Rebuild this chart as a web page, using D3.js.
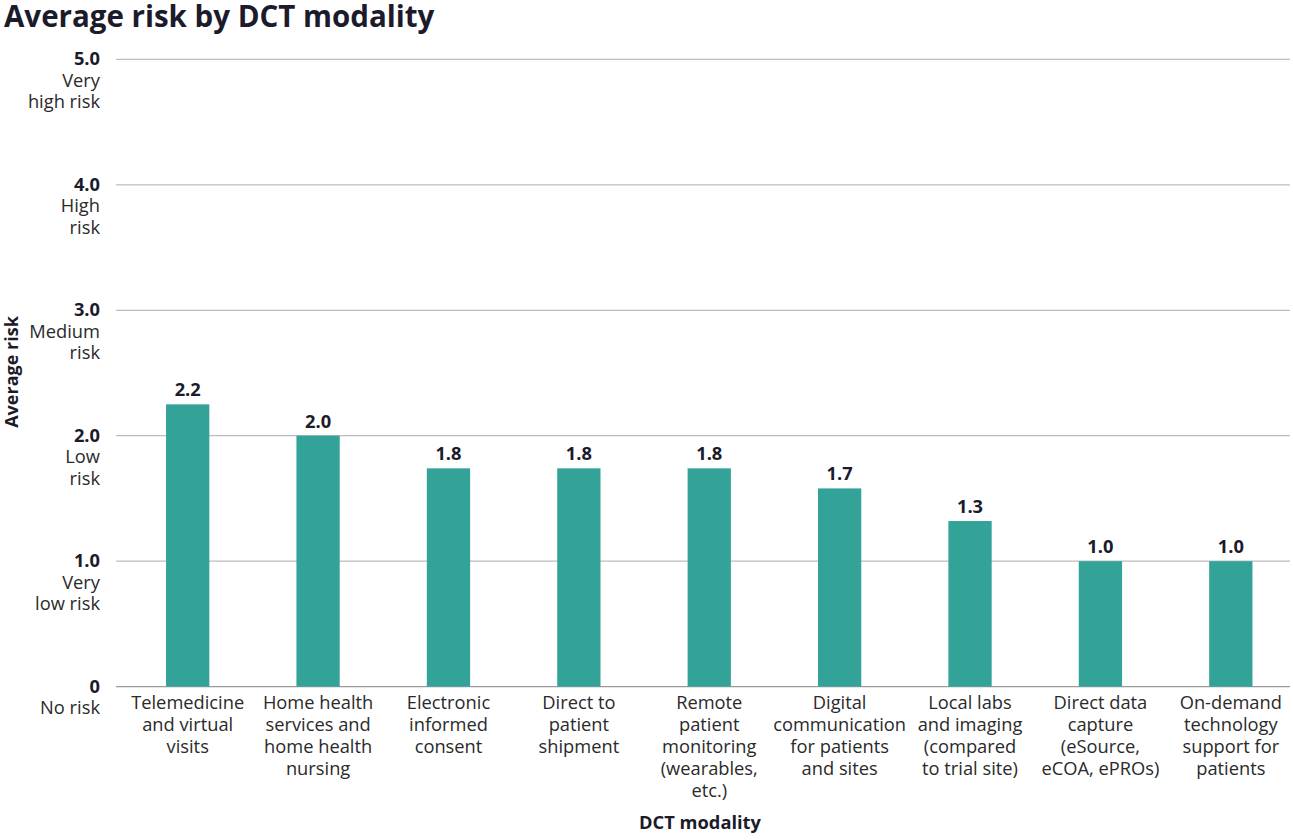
<!DOCTYPE html>
<html>
<head>
<meta charset="utf-8">
<script src="https://cdn.jsdelivr.net/npm/d3@7"></script>
<style>
  body { margin: 0; background: #fff; font-family: "Open Sans", sans-serif; }
</style>
</head>
<body>
<div id="chart"></div>
<script>
// Chart data
const categories = [
  ["Telemedicine", "and virtual", "visits"],
  ["Home health", "services and", "home health", "nursing"],
  ["Electronic", "informed", "consent"],
  ["Direct to", "patient", "shipment"],
  ["Remote", "patient", "monitoring", "(wearables,", "etc.)"],
  ["Digital", "communication", "for patients", "and sites"],
  ["Local labs", "and imaging", "(compared", "to trial site)"],
  ["Direct data", "capture", "(eSource,", "eCOA, ePROs)"],
  ["On-demand", "technology", "support for", "patients"]
];
const values = [2.25, 2.0, 1.74, 1.74, 1.74, 1.58, 1.32, 1.0, 1.0];
const valueLabels = ["2.2", "2.0", "1.8", "1.8", "1.8", "1.7", "1.3", "1.0", "1.0"];
const yTicks = [0, 1, 2, 3, 4, 5];
const yTickNumbers = ["0", "1.0", "2.0", "3.0", "4.0", "5.0"];
const yTickNames = [["No risk"], ["Very", "low risk"], ["Low", "risk"], ["Medium", "risk"], ["High", "risk"], ["Very", "high risk"]];

const W = 1293, H = 840;
const fs = 18.3;
const svg = d3.select("#chart").append("svg")
  .attr("width", W)
  .attr("height", H);

// Title
svg.append("text")
  .attr("x", 4)
  .attr("y", 27)
  .attr("font-size", 29.5)
  .attr("font-weight", 700)
  .attr("fill", "#1b1b2b")
  .text("Average risk by DCT modality");

// Scales
const x = d3.scaleBand()
  .domain(d3.range(categories.length))
  .range([122.5, 1296])
  .paddingInner(0.668)
  .paddingOuter(0.334);

const y = d3.scaleLinear()
  .domain([0, 5])
  .range([686.6, 59.4]);

// Grid lines
svg.append("g")
  .selectAll("line")
  .data(yTicks)
  .join("line")
  .attr("x1", 116)
  .attr("x2", 1290)
  .attr("y1", d => y(d))
  .attr("y2", d => y(d))
  .attr("stroke", d => d === 0 ? "#9a9a9a" : "#bdbdbd")
  .attr("stroke-width", 1.2);

// Y tick labels
const yTick = svg.append("g")
  .selectAll("g")
  .data(yTicks)
  .join("g")
  .attr("transform", d => `translate(100, ${y(d)})`);

yTick.append("text")
  .attr("text-anchor", "end")
  .attr("y", 6)
  .attr("font-size", fs)
  .attr("font-weight", 700)
  .attr("fill", "#1b1b2b")
  .text((d, i) => yTickNumbers[i]);

yTick.each(function (d, i) {
  d3.select(this).selectAll("text.name")
    .data(yTickNames[i])
    .join("text")
    .attr("class", "name")
    .attr("text-anchor", "end")
    .attr("y", (t, j) => 27.5 + j * 21.5)
    .attr("font-size", fs)
    .attr("fill", "#2a2a2a")
    .text(t => t);
});

// Y axis title
svg.append("text")
  .attr("transform", "rotate(-90)")
  .attr("x", -372)
  .attr("y", 18)
  .attr("text-anchor", "middle")
  .attr("font-size", 18)
  .attr("font-weight", 700)
  .attr("fill", "#1b1b2b")
  .text("Average risk");

// Bars
svg.append("g")
  .selectAll("rect")
  .data(values)
  .join("rect")
  .attr("x", (d, i) => x(i))
  .attr("width", x.bandwidth())
  .attr("y", d => y(d))
  .attr("height", d => y(0) - y(d))
  .attr("fill", "#33a39a");

// Value labels
svg.append("g")
  .selectAll("text")
  .data(values)
  .join("text")
  .attr("x", (d, i) => x(i) + x.bandwidth() / 2)
  .attr("y", d => y(d) - 8)
  .attr("text-anchor", "middle")
  .attr("font-size", fs)
  .attr("font-weight", 700)
  .attr("fill", "#1b1b2b")
  .text((d, i) => valueLabels[i]);

// X category labels
const xLab = svg.append("g")
  .selectAll("g")
  .data(categories)
  .join("g")
  .attr("transform", (d, i) => `translate(${x(i) + x.bandwidth() / 2}, 708.5)`);

xLab.each(function (lines) {
  d3.select(this).selectAll("text")
    .data(lines)
    .join("text")
    .attr("text-anchor", "middle")
    .attr("y", (t, j) => j * 22.2)
    .attr("font-size", fs)
    .attr("fill", "#2a2a2a")
    .text(t => t);
});

// X axis title
svg.append("text")
  .attr("x", 700)
  .attr("y", 828.5)
  .attr("text-anchor", "middle")
  .attr("font-size", fs)
  .attr("font-weight", 700)
  .attr("fill", "#1b1b2b")
  .text("DCT modality");
</script>
</body>
</html>
